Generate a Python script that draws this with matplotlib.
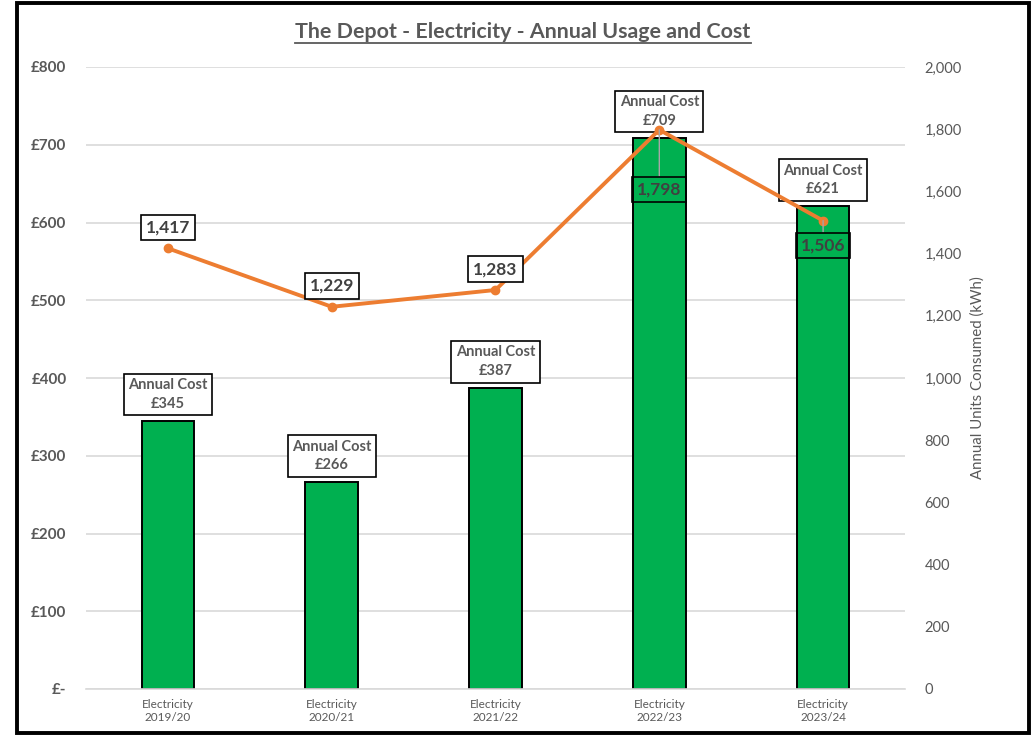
import matplotlib
matplotlib.use('Agg')
import matplotlib.pyplot as plt
from matplotlib.patches import Rectangle
from matplotlib.lines import Line2D
from matplotlib.ticker import FuncFormatter

plt.rcParams['font.family'] = ['Lato', 'DejaVu Sans']

years = ['2019/20', '2020/21', '2021/22', '2022/23', '2023/24']
cost = [345, 266, 387, 709, 621]
units = [1417, 1229, 1283, 1798, 1506]
cost_ticks = [0, 100, 200, 300, 400, 500, 600, 700, 800]
unit_ticks = [0, 200, 400, 600, 800, 1000, 1200, 1400, 1600, 1800, 2000]

grey = '#595959'
dark = '#404040'
green = '#00B050'
orange = '#ED7D31'

fig = plt.figure(figsize=(10.34, 7.36), dpi=100)
ax = fig.add_axes([86/1034, 47/736, 819/1034, 622/736])
ax2 = ax.twinx()

x = list(range(len(years)))
ax.bar(x, cost, width=0.32, color=green, edgecolor='black', linewidth=1.4, zorder=2)
ax.set_xlim(-0.5, 4.5)
ax.set_ylim(0, 800)
ax.set_yticks(cost_ticks)
ax.yaxis.set_major_formatter(FuncFormatter(lambda v, p: '£-' if v == 0 else f'£{v:,.0f}'))
ax.set_xticks(x)
ax.set_xticklabels(['Electricity\n' + y for y in years], fontsize=8.5, color=grey)
ax.grid(axis='y', color='#D9D9D9', linewidth=1.2, zorder=0)
ax.set_axisbelow(True)
ax.tick_params(axis='both', length=0)
ax.tick_params(axis='y', labelsize=11, labelcolor=grey, pad=14)
ax.tick_params(axis='x', pad=7)
for t in ax.get_yticklabels():
    t.set_fontweight('bold')
for s in ['top', 'left', 'right']:
    ax.spines[s].set_visible(False)
ax.spines['bottom'].set_color('#D9D9D9')
ax.spines['bottom'].set_linewidth(1.2)

# usage line on the secondary axis
ax2.plot(x, units, color=orange, linewidth=2.8, marker='o', markersize=6, zorder=3)
ax2.set_ylim(0, 2000)
ax2.set_yticks(unit_ticks)
ax2.yaxis.set_major_formatter(FuncFormatter(lambda v, p: f'{v:,.0f}'))
ax2.yaxis.set_tick_params(which='major', length=0, labelsize=10.5, labelcolor=grey, pad=14)
for s in ['top', 'left', 'right', 'bottom']:
    ax2.spines[s].set_visible(False)
ax2.set_ylabel('Annual Units Consumed (kWh)', fontsize=10.8, color=grey, labelpad=6)

box = dict(boxstyle='square,pad=0.3', facecolor='white', edgecolor='black', linewidth=1.2)
for i, c in enumerate(cost):
    ax.annotate(f'Annual Cost\n£{c}', (i, c), xytext=(0, 7), textcoords='offset points',
                ha='center', va='bottom', fontsize=10.5, fontweight='bold', color=grey,
                bbox=box, zorder=5, linespacing=1.45)

ubox = dict(boxstyle='square,pad=0.28', facecolor='white', edgecolor='black', linewidth=1.2)
ubox_clear = dict(boxstyle='square,pad=0.28', facecolor='none', edgecolor='black', linewidth=1.2)
offsets = [(0, 15), (0, 15), (0, 15), (0, -43), (0, -18)]
for i, u in enumerate(units):
    dx, dy = offsets[i]
    if dy > 0:
        ax2.annotate(f'{u:,}', (i, u), xytext=(dx, dy), textcoords='offset points',
                     ha='center', va='center', fontsize=12.5, fontweight='bold', color=dark,
                     bbox=ubox, zorder=6)
    else:
        ax2.annotate(f'{u:,}', (i, u), xytext=(dx, dy), textcoords='offset points',
                     ha='center', va='center', fontsize=12.5, fontweight='bold', color=dark,
                     bbox=ubox_clear, zorder=6,
                     arrowprops=dict(arrowstyle='-', color='#A6A6A6', linewidth=1,
                                     shrinkA=0, shrinkB=0))

title = fig.text(523/1034, 1 - 32/736, 'The Depot - Electricity - Annual Usage and Cost',
                 ha='center', va='center', fontsize=15.4, fontweight='bold', color=grey)

# underline the title
fig.canvas.draw()
bb = title.get_window_extent().transformed(fig.transFigure.inverted())
fig.add_artist(Line2D([bb.x0, bb.x1], [bb.y0 - 0.001, bb.y0 - 0.001],
                      transform=fig.transFigure, color=grey, linewidth=1.3))

fig.add_artist(Rectangle((17/1034, 3/736), 1012/1034, 730/736, transform=fig.transFigure,
                         fill=False, edgecolor='black', linewidth=2.8))

fig.savefig('out.png', dpi=100)
